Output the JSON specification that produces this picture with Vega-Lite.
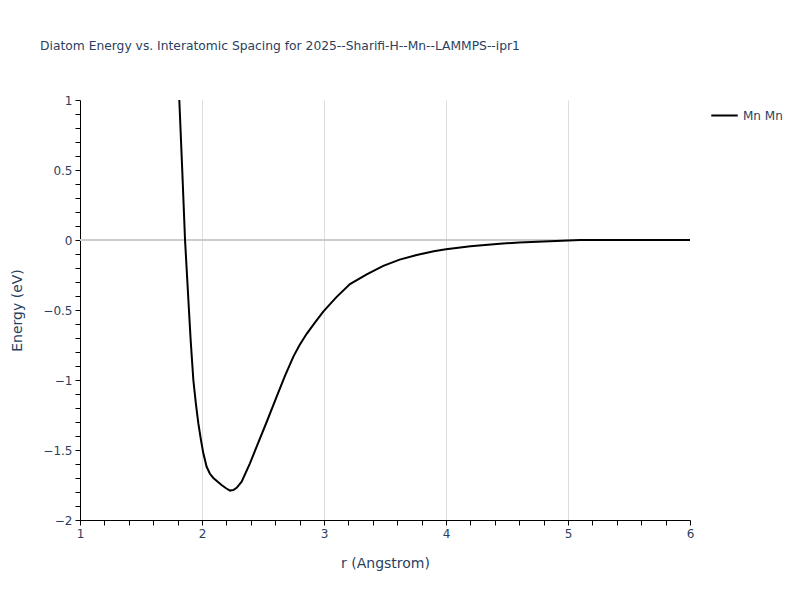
{
  "$schema": "https://vega.github.io/schema/vega-lite/v6.json",
  "autosize": {"type": "none"},
  "width": 610,
  "height": 420,
  "padding": {"left": 80, "top": 100, "right": 110, "bottom": 80},
  "background": "white",
  "title": {
    "text": "Diatom Energy vs. Interatomic Spacing for 2025--Sharifi-H--Mn--LAMMPS--ipr1",
    "anchor": "start",
    "frame": "group",
    "dx": -40,
    "offset": 42,
    "font": "DejaVu Sans",
    "fontSize": 12.3,
    "fontWeight": "normal",
    "color": "#2a3f5f"
  },
  "config": {
    "view": {"stroke": null},
    "font": "DejaVu Sans"
  },
  "data": {
    "values": [
      {"r": 1.79, "E": 1.45, "pair": "Mn Mn"},
      {"r": 1.814, "E": 1.0, "pair": "Mn Mn"},
      {"r": 1.838, "E": 0.5, "pair": "Mn Mn"},
      {"r": 1.861, "E": 0.0, "pair": "Mn Mn"},
      {"r": 1.877, "E": -0.25, "pair": "Mn Mn"},
      {"r": 1.893, "E": -0.5, "pair": "Mn Mn"},
      {"r": 1.907, "E": -0.714, "pair": "Mn Mn"},
      {"r": 1.929, "E": -1.0, "pair": "Mn Mn"},
      {"r": 1.95, "E": -1.17, "pair": "Mn Mn"},
      {"r": 1.97, "E": -1.31, "pair": "Mn Mn"},
      {"r": 1.99, "E": -1.42, "pair": "Mn Mn"},
      {"r": 2.01, "E": -1.52, "pair": "Mn Mn"},
      {"r": 2.038, "E": -1.62, "pair": "Mn Mn"},
      {"r": 2.065, "E": -1.67, "pair": "Mn Mn"},
      {"r": 2.093, "E": -1.70, "pair": "Mn Mn"},
      {"r": 2.16, "E": -1.75, "pair": "Mn Mn"},
      {"r": 2.2, "E": -1.775, "pair": "Mn Mn"},
      {"r": 2.23, "E": -1.79, "pair": "Mn Mn"},
      {"r": 2.26, "E": -1.785, "pair": "Mn Mn"},
      {"r": 2.284, "E": -1.77, "pair": "Mn Mn"},
      {"r": 2.325, "E": -1.726, "pair": "Mn Mn"},
      {"r": 2.393, "E": -1.595, "pair": "Mn Mn"},
      {"r": 2.448, "E": -1.476, "pair": "Mn Mn"},
      {"r": 2.53, "E": -1.3, "pair": "Mn Mn"},
      {"r": 2.612, "E": -1.119, "pair": "Mn Mn"},
      {"r": 2.68, "E": -0.97, "pair": "Mn Mn"},
      {"r": 2.749, "E": -0.833, "pair": "Mn Mn"},
      {"r": 2.8, "E": -0.75, "pair": "Mn Mn"},
      {"r": 2.858, "E": -0.67, "pair": "Mn Mn"},
      {"r": 2.93, "E": -0.585, "pair": "Mn Mn"},
      {"r": 2.994, "E": -0.512, "pair": "Mn Mn"},
      {"r": 3.1, "E": -0.41, "pair": "Mn Mn"},
      {"r": 3.213, "E": -0.315, "pair": "Mn Mn"},
      {"r": 3.35, "E": -0.245, "pair": "Mn Mn"},
      {"r": 3.486, "E": -0.185, "pair": "Mn Mn"},
      {"r": 3.62, "E": -0.14, "pair": "Mn Mn"},
      {"r": 3.76, "E": -0.107, "pair": "Mn Mn"},
      {"r": 3.9, "E": -0.08, "pair": "Mn Mn"},
      {"r": 4.0, "E": -0.066, "pair": "Mn Mn"},
      {"r": 4.2, "E": -0.044, "pair": "Mn Mn"},
      {"r": 4.44, "E": -0.027, "pair": "Mn Mn"},
      {"r": 4.6, "E": -0.018, "pair": "Mn Mn"},
      {"r": 4.8, "E": -0.01, "pair": "Mn Mn"},
      {"r": 5.0, "E": -0.004, "pair": "Mn Mn"},
      {"r": 5.1, "E": 0.0, "pair": "Mn Mn"},
      {"r": 5.5, "E": 0.0, "pair": "Mn Mn"},
      {"r": 6.0, "E": 0.0, "pair": "Mn Mn"}
    ]
  },
  "layer": [
    {
      "mark": {"type": "rule", "color": "#cccccc", "strokeWidth": 2},
      "encoding": {"y": {"datum": 0, "type": "quantitative"}}
    },
    {
      "mark": {"type": "line", "clip": true, "strokeWidth": 2},
      "encoding": {
        "x": {
          "field": "r",
          "type": "quantitative",
          "scale": {"domain": [1, 6], "nice": false, "zero": false},
          "axis": {
            "title": "r (Angstrom)",
            "values": [1, 1.2, 1.4, 1.6, 1.8, 2, 2.2, 2.4, 2.6, 2.8, 3, 3.2, 3.4, 3.6, 3.8, 4, 4.2, 4.4, 4.6, 4.8, 5, 5.2, 5.4, 5.6, 5.8, 6],
            "tickCount": 200,
            "labelExpr": "abs(datum.value - round(datum.value)) < 0.001 ? format(datum.value, 'd') : ''",
            "labelFlush": false,
            "labelOverlap": false,
            "gridOpacity": {"condition": {"test": "abs(datum.value - round(datum.value)) < 0.001 && datum.value > 1 && datum.value < 6", "value": 1}, "value": 0},
            "gridColor": "#dddddd",
            "domainColor": "#000000",
            "tickColor": "#000000",
            "tickSize": 5,
            "labelFont": "DejaVu Sans",
            "labelFontSize": 12,
            "labelColor": "#2a3f5f",
            "labelPadding": 3,
            "titleFont": "DejaVu Sans",
            "titleFontSize": 14,
            "titleFontWeight": "normal",
            "titleColor": "#2a3f5f",
            "titlePadding": 17
          }
        },
        "y": {
          "field": "E",
          "type": "quantitative",
          "scale": {"domain": [-2, 1], "nice": false, "zero": false},
          "axis": {
            "title": "Energy (eV)",
            "values": [-2, -1.9, -1.8, -1.7, -1.6, -1.5, -1.4, -1.3, -1.2, -1.1, -1, -0.9, -0.8, -0.7, -0.6, -0.5, -0.4, -0.3, -0.2, -0.1, 0, 0.1, 0.2, 0.3, 0.4, 0.5, 0.6, 0.7, 0.8, 0.9, 1],
            "tickCount": 200,
            "labelExpr": "abs(datum.value*2 - round(datum.value*2)) < 0.001 ? replace(format(datum.value, '~g'), '-', '\u2212') : ''",
            "labelFlush": false,
            "labelOverlap": false,
            "gridOpacity": {"condition": {"test": "abs(datum.value*2 - round(datum.value*2)) < 0.001 && datum.value > -2 && datum.value < 1", "value": 1}, "value": 0},
            "gridColor": "#e5e5e5",
            "domainColor": "#000000",
            "tickColor": "#000000",
            "tickSize": 5,
            "labelFont": "DejaVu Sans",
            "labelFontSize": 12,
            "labelColor": "#2a3f5f",
            "labelPadding": 3,
            "titleFont": "DejaVu Sans",
            "titleFontSize": 14,
            "titleFontWeight": "normal",
            "titleColor": "#2a3f5f",
            "titlePadding": 18
          }
        },
        "color": {
          "field": "pair",
          "type": "nominal",
          "scale": {"range": ["#000000"]},
          "legend": {
            "title": null,
            "orient": "none",
            "legendX": 630,
            "legendY": 1,
            "symbolType": "stroke",
            "symbolSize": 700,
            "symbolStrokeWidth": 2,
            "labelFont": "DejaVu Sans",
            "labelFontSize": 12,
            "labelColor": "#2a3f5f"
          }
        }
      }
    }
  ]
}
